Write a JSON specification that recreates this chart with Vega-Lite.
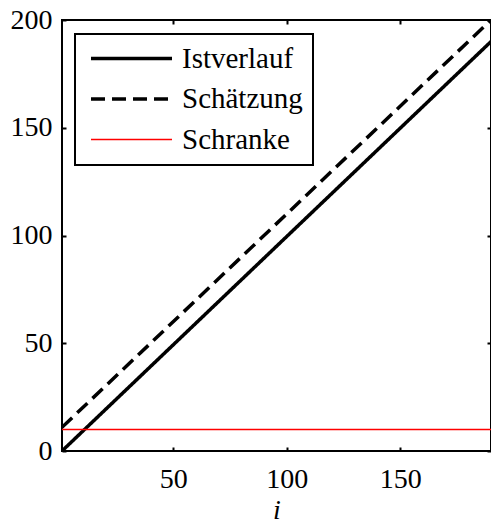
{
  "$schema": "https://vega.github.io/schema/vega-lite/v6.json",
  "autosize": {"type": "none"},
  "padding": {"left": 62, "top": 20, "right": 0, "bottom": 71},
  "width": 429,
  "height": 431,
  "background": "white",
  "data": {
    "values": [
      {"i": 1, "wert": 0, "reihe": "Istverlauf"},
      {"i": 190, "wert": 190, "reihe": "Istverlauf"},
      {"i": 1, "wert": 11, "reihe": "Schätzung"},
      {"i": 190, "wert": 200, "reihe": "Schätzung"},
      {"i": 1, "wert": 10, "reihe": "Schranke"},
      {"i": 190, "wert": 10, "reihe": "Schranke"}
    ]
  },
  "layer": [
    {
      "mark": {"type": "line", "clip": true},
      "encoding": {
        "x": {
          "field": "i", "type": "quantitative",
          "scale": {"domain": [1, 190], "nice": false, "zero": false},
          "axis": {"values": [50, 100, 150], "title": "i"}
        },
        "y": {
          "field": "wert", "type": "quantitative",
          "scale": {"domain": [0, 200], "nice": false},
          "axis": {"values": [0, 50, 100, 150, 200], "title": null}
        },
        "detail": {"field": "reihe"},
        "color": {
          "field": "reihe", "type": "ordinal",
          "scale": {"domain": ["Istverlauf", "Schätzung", "Schranke"], "range": ["black", "black", "#ff0000"]},
          "legend": {
            "title": null,
            "encode": {"legend": {"update": {"strokeWidth": {"value": 2}}}}
          }
        },
        "strokeDash": {
          "field": "reihe", "type": "ordinal",
          "scale": {"domain": ["Istverlauf", "Schätzung", "Schranke"], "range": [[1, 0], [14, 7], [1, 0]]},
          "legend": {"title": null}
        },
        "strokeWidth": {
          "field": "reihe", "type": "ordinal",
          "scale": {"type": "ordinal", "domain": ["Istverlauf", "Schätzung", "Schranke"], "range": [3.5, 3.5, 1.4]},
          "legend": {"title": null}
        }
      }
    },
    {
      "mark": {"type": "point", "opacity": 0},
      "encoding": {
        "x": {
          "field": "i", "type": "quantitative",
          "axis": {"orient": "top", "values": [50, 100, 150], "labels": false, "title": null}
        },
        "y": {
          "field": "wert", "type": "quantitative",
          "axis": {"orient": "right", "values": [0, 50, 100, 150, 200], "labels": false, "title": null}
        }
      }
    }
  ],
  "resolve": {"axis": {"x": "independent", "y": "independent"}},
  "config": {
    "font": "Times New Roman",
    "view": {"stroke": "black", "strokeWidth": 2},
    "axis": {
      "domain": false,
      "grid": false,
      "ticks": true,
      "tickSize": -4,
      "tickWidth": 2,
      "tickColor": "black",
      "labelFont": "Times New Roman",
      "labelFontSize": 28,
      "labelColor": "black",
      "titleFont": "Times New Roman",
      "titleFontSize": 28,
      "titleFontStyle": "italic",
      "titleFontWeight": "normal",
      "titleColor": "black"
    },
    "axisX": {"labelPadding": 18, "titlePadding": 3},
    "axisY": {"labelPadding": 14},
    "legend": {
      "orient": "none",
      "legendX": 13,
      "legendY": 14,
      "fillColor": "white",
      "strokeColor": "black",
      "padding": 10,
      "symbolType": "stroke",
      "symbolSize": 6561,
      "symbolOffset": 4,
      "clipHeight": 29,
      "rowPadding": 10.5,
      "labelOffset": 8,
      "labelFont": "Times New Roman",
      "labelFontSize": 29,
      "labelColor": "black",
      "labelLimit": 400
    }
  }
}
